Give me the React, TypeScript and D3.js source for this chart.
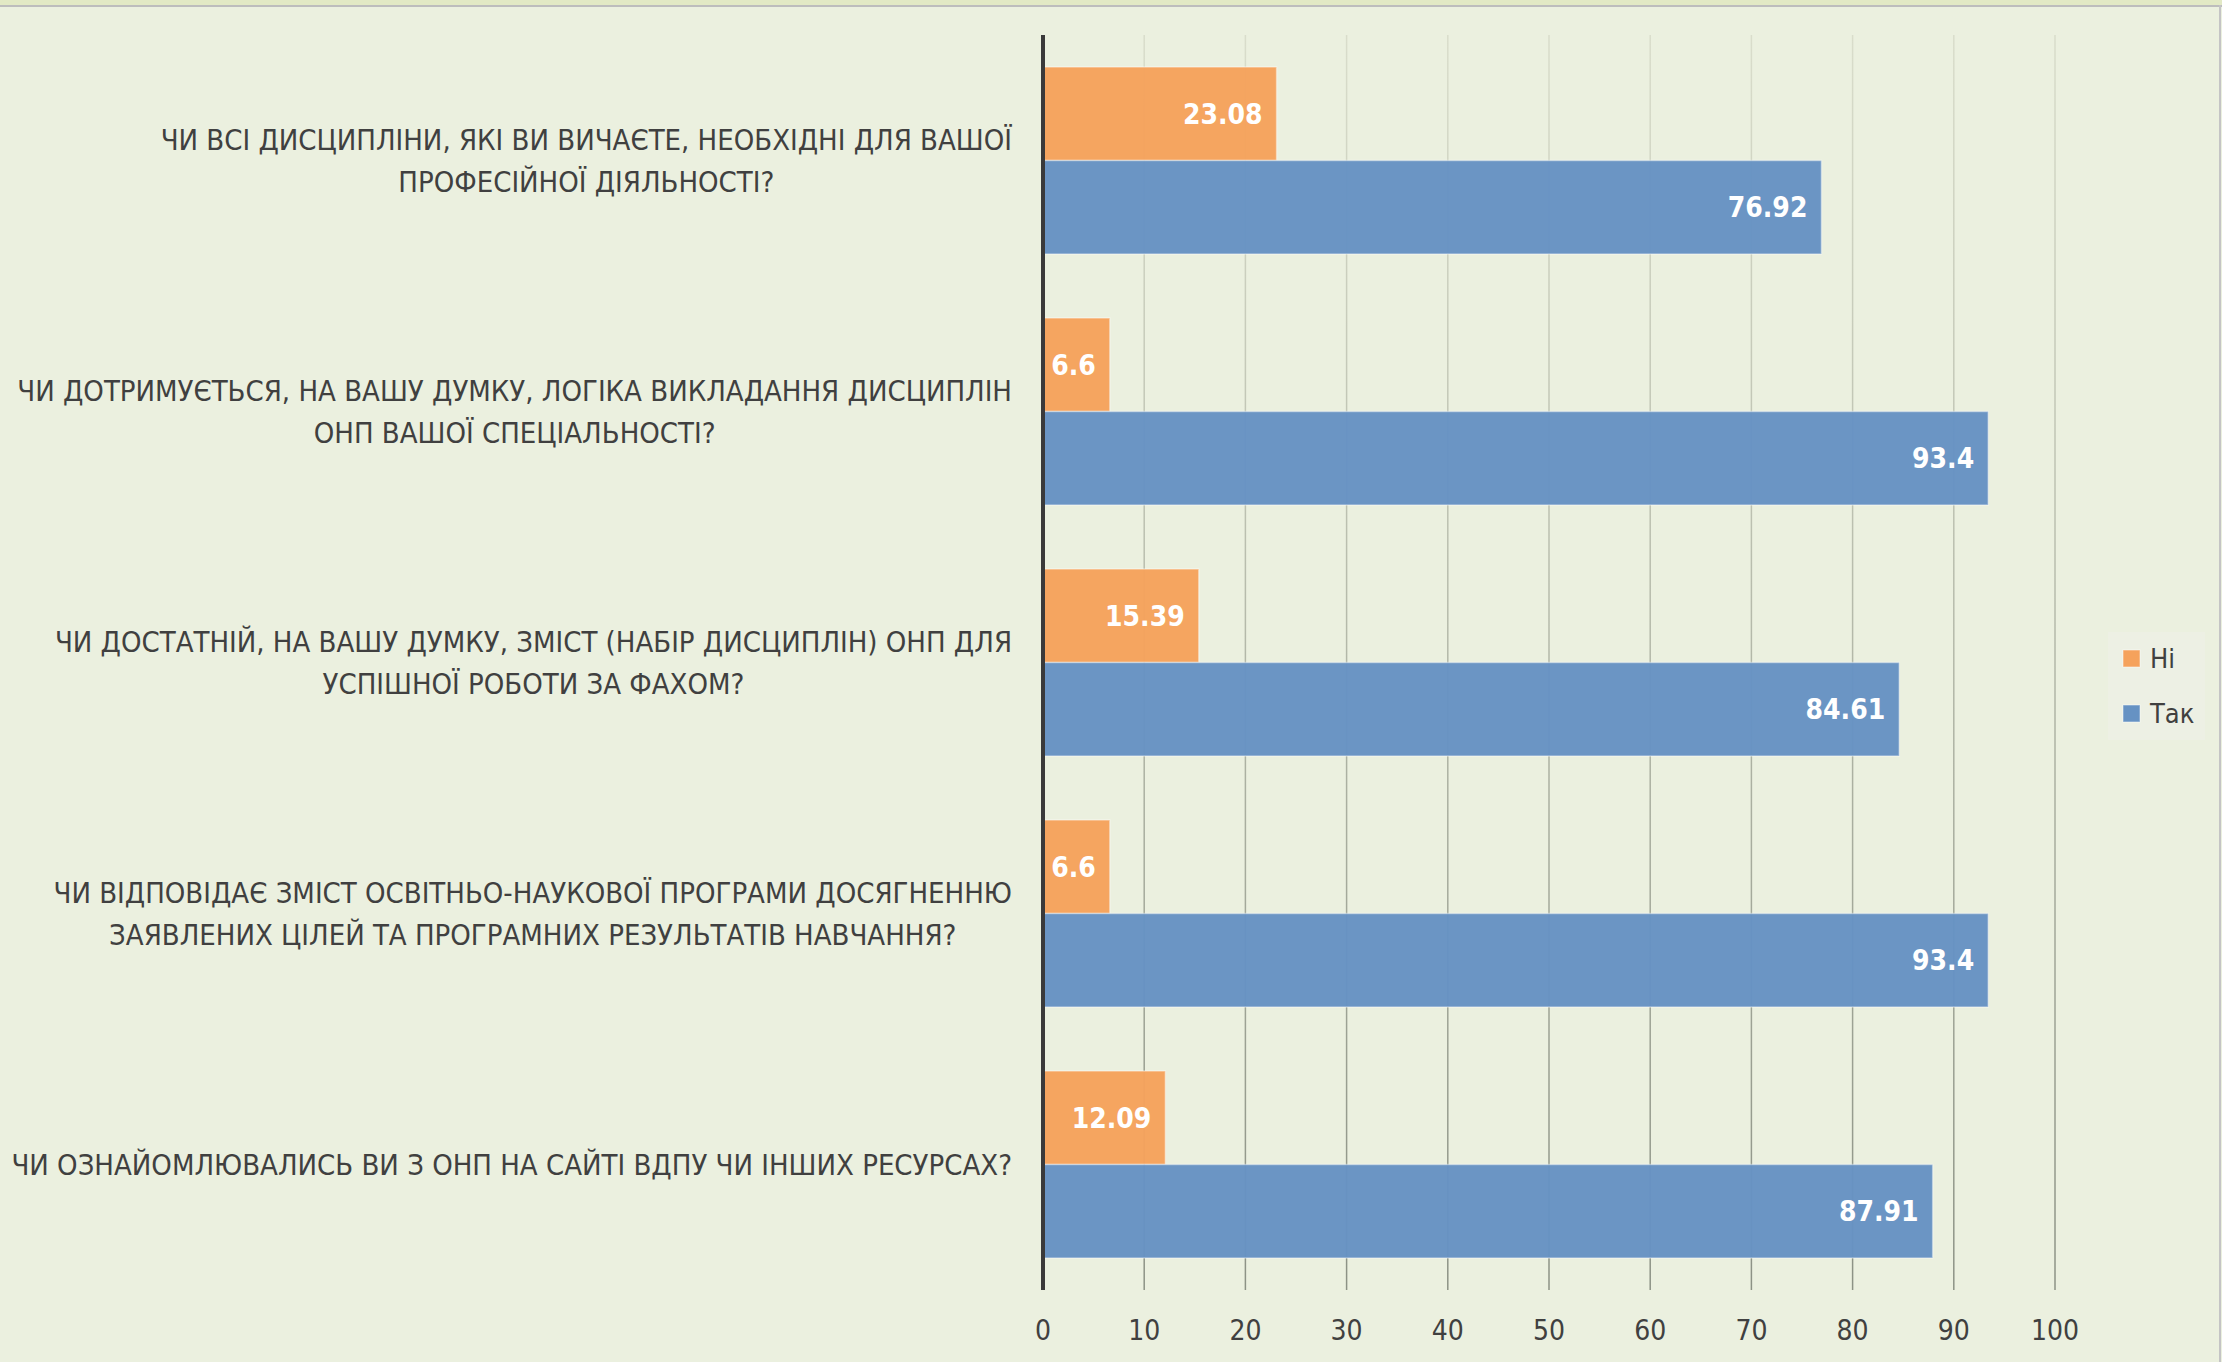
import { useEffect, useRef } from "react"
import * as d3 from "d3"

const questions = [
  ["ЧИ ВСІ ДИСЦИПЛІНИ, ЯКІ ВИ ВИЧАЄТЕ, НЕОБХІДНІ ДЛЯ ВАШОЇ", "ПРОФЕСІЙНОЇ ДІЯЛЬНОСТІ?"],
  ["ЧИ ДОТРИМУЄТЬСЯ, НА ВАШУ ДУМКУ, ЛОГІКА ВИКЛАДАННЯ ДИСЦИПЛІН", "ОНП ВАШОЇ СПЕЦІАЛЬНОСТІ?"],
  ["ЧИ ДОСТАТНІЙ, НА ВАШУ ДУМКУ, ЗМІСТ (НАБІР ДИСЦИПЛІН) ОНП ДЛЯ", "УСПІШНОЇ РОБОТИ ЗА ФАХОМ?"],
  ["ЧИ ВІДПОВІДАЄ ЗМІСТ ОСВІТНЬО-НАУКОВОЇ ПРОГРАМИ ДОСЯГНЕННЮ", "ЗАЯВЛЕНИХ ЦІЛЕЙ ТА ПРОГРАМНИХ РЕЗУЛЬТАТІВ НАВЧАННЯ?"],
  ["ЧИ ОЗНАЙОМЛЮВАЛИСЬ ВИ З ОНП НА САЙТІ ВДПУ ЧИ ІНШИХ РЕСУРСАХ?"],
]
const seriesNames = ["Ні", "Так"]
const niValues = [23.08, 6.6, 15.39, 6.6, 12.09]
const takValues = [76.92, 93.4, 84.61, 93.4, 87.91]
const xTicks = [0, 10, 20, 30, 40, 50, 60, 70, 80, 90, 100]

const W = 2222
const H = 1362
const COLORS: Record<string, string> = { "Ні": "#F5A25C", "Так": "#6692C3" }
const FONT = "'Liberation Sans Narrow', 'DejaVu Sans Condensed', 'Arial Narrow', sans-serif"
const TEXT = "#404040"

export default function App() {
  const svgRef = useRef<SVGSVGElement>(null)

  useEffect(() => {
    if (!svgRef.current) return
    const root = d3.select(svgRef.current)
    root.selectAll("*").remove()

    // Background and frame
    root.append("rect").attr("width", W).attr("height", H).attr("fill", "#EBF0DF")
    root.append("rect").attr("width", W).attr("height", 5).attr("fill", "#E2E9C5")
    root.append("rect").attr("y", 5).attr("width", W).attr("height", 2).attr("fill", "#BDBDBD")
    root.append("rect").attr("x", 2219).attr("y", 5).attr("width", 2).attr("height", H).attr("fill", "#C4C4C4")

    const x = d3.scaleLinear().domain([0, 100]).range([1043, 2055])
    const y = d3
      .scaleBand<number>()
      .domain(d3.range(questions.length))
      .range([35, 1290])
      .paddingInner(0.255)
      .paddingOuter(0.1275)
    const ySub = d3.scaleBand<string>().domain(seriesNames).range([0, y.bandwidth()])

    const defs = root.append("defs")
    const grad = defs
      .append("linearGradient")
      .attr("id", "gridGrad")
      .attr("gradientUnits", "userSpaceOnUse")
      .attr("x1", 0)
      .attr("y1", 35)
      .attr("x2", 0)
      .attr("y2", 1290)
    grad.append("stop").attr("offset", 0).attr("stop-color", "#D9DDCB")
    grad.append("stop").attr("offset", 1).attr("stop-color", "#8C9285")

    // Grid
    root
      .append("g")
      .selectAll("line")
      .data(xTicks.filter((t) => t > 0))
      .join("line")
      .attr("x1", (d) => x(d))
      .attr("x2", (d) => x(d))
      .attr("y1", 35)
      .attr("y2", 1290)
      .attr("stroke", "url(#gridGrad)")
      .attr("stroke-width", 1.5)

    // Bars
    const rows = questions.map((_, i) => [
      { key: "Ні", value: niValues[i], i },
      { key: "Так", value: takValues[i], i },
    ])
    const groups = root
      .append("g")
      .selectAll("g")
      .data(rows)
      .join("g")
      .attr("transform", (_, i) => `translate(0,${y(i)})`)

    groups
      .selectAll("rect")
      .data((d) => d)
      .join("rect")
      .attr("x", x(0))
      .attr("y", (d) => ySub(d.key) as number)
      .attr("width", (d) => x(d.value) - x(0))
      .attr("height", ySub.bandwidth())
      .attr("fill", (d) => COLORS[d.key])
      .attr("fill-opacity", 0.97)
      .attr("stroke", "rgba(255,255,255,0.4)")
      .attr("stroke-width", 1.5)

    groups
      .selectAll("text")
      .data((d) => d)
      .join("text")
      .attr("x", (d) => x(d.value) - 14)
      .attr("y", (d) => (ySub(d.key) as number) + ySub.bandwidth() / 2)
      .attr("dy", "0.36em")
      .attr("text-anchor", "end")
      .attr("fill", "#FFFFFF")
      .attr("font-family", FONT)
      .attr("font-weight", "bold")
      .attr("font-size", 28)
      .text((d) => String(d.value))

    // Vertical axis line
    root
      .append("line")
      .attr("x1", x(0))
      .attr("x2", x(0))
      .attr("y1", 35)
      .attr("y2", 1290)
      .attr("stroke", "#3A3A3A")
      .attr("stroke-width", 4)

    // X axis labels
    root
      .append("g")
      .selectAll("text")
      .data(xTicks)
      .join("text")
      .attr("x", (d) => x(d))
      .attr("y", 1330)
      .attr("dy", "0.36em")
      .attr("text-anchor", "middle")
      .attr("fill", TEXT)
      .attr("font-family", FONT)
      .attr("font-size", 28)
      .text((d) => d)

    // Category labels, centred on their widest line, right edge at 1012
    const lineH = 42
    questions.forEach((lines, i) => {
      const cy = (y(i) as number) + y.bandwidth() / 2
      const g = root.append("g")
      const texts = g
        .selectAll("text")
        .data(lines)
        .join("text")
        .attr("x", 0)
        .attr("y", (_, j) => cy + (j - (lines.length - 1) / 2) * lineH)
        .attr("dy", "0.36em")
        .attr("text-anchor", "middle")
        .attr("fill", TEXT)
        .attr("font-family", FONT)
        .attr("font-size", 29)
        .text((d) => d)
      let maxW = 0
      texts.each(function () {
        maxW = Math.max(maxW, (this as SVGTextElement).getComputedTextLength())
      })
      g.attr("transform", `translate(${1012 - maxW / 2},0)`)
    })

    // Legend
    const legend = root.append("g")
    legend
      .append("rect")
      .attr("x", 2108)
      .attr("y", 632)
      .attr("width", 97)
      .attr("height", 108)
      .attr("fill", "#EDF0E4")
    const items = legend
      .selectAll("g.item")
      .data(seriesNames)
      .join("g")
      .attr("class", "item")
      .attr("transform", (_, i) => `translate(2123,${650 + i * 55})`)
    items
      .append("rect")
      .attr("width", 17)
      .attr("height", 17)
      .attr("fill", (d) => COLORS[d])
      .attr("stroke", "rgba(255,255,255,0.5)")
    items
      .append("text")
      .attr("x", 27)
      .attr("y", 8.5)
      .attr("dy", "0.36em")
      .attr("fill", TEXT)
      .attr("font-family", FONT)
      .attr("font-size", 27)
      .text((d) => d)
  }, [])

  return (
    <>
      <style>{`body{margin:0}`}</style>
      <svg ref={svgRef} width={W} height={H} style={{ display: "block" }} />
    </>
  )
}
